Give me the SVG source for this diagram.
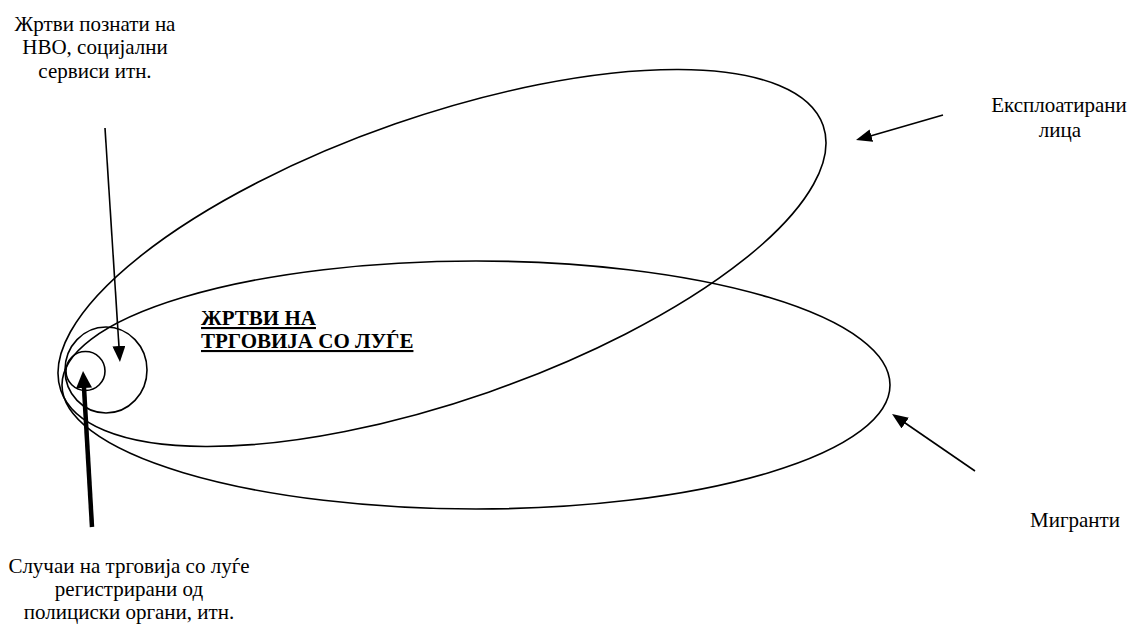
<svg xmlns="http://www.w3.org/2000/svg" width="1131" height="626" viewBox="0 0 1131 626">
<style>
.shape{fill:none;stroke:#000;stroke-width:1.6}
.lbl{font-family:'Liberation Serif','Times New Roman',serif;font-size:21px;fill:#000}
.mid{text-anchor:middle}
.title{font-weight:bold;text-decoration:underline}
.thin{stroke:#000;stroke-width:1.6;fill:none}
.thick{stroke:#000;stroke-width:4.5;fill:none}
</style>
<defs>
<marker id="ahThin" viewBox="0 0 16 13" refX="1" refY="6.5" markerWidth="16" markerHeight="13" markerUnits="userSpaceOnUse" orient="auto"><path d="M0,0 L16,6.5 L0,13 z" fill="#000"/></marker>
<marker id="ahThick" viewBox="0 0 17 16" refX="2" refY="8" markerWidth="17" markerHeight="16" markerUnits="userSpaceOnUse" orient="auto"><path d="M0,0 L17,8 L0,16 z" fill="#000"/></marker>
</defs>
<rect width="1131" height="626" fill="#fff"/>
<g id="exploited">
<ellipse class="shape" cx="442" cy="258" rx="403.5" ry="142" transform="rotate(-19.16 442 258)"/>
</g>
<g id="migrants">
<ellipse class="shape" cx="476" cy="385" rx="414" ry="124"/>
</g>
<g id="ngo">
<ellipse class="shape" cx="106" cy="370" rx="41" ry="43"/>
</g>
<g id="police">
<circle class="shape" cx="85.5" cy="371" r="19.5"/>
</g>
<g id="title">
<text class="lbl title" x="201" y="325">ЖРТВИ НА</text>
<text class="lbl title" x="201" y="348">ТРГОВИЈА СО ЛУЃЕ</text>
</g>
<g id="label-ngo">
<text class="lbl mid" x="95" y="30.5">Жртви познати на</text>
<text class="lbl mid" x="95" y="54">НВО, социјални</text>
<text class="lbl mid" x="95" y="78">сервиси итн.</text>
</g>
<g id="label-exploited">
<text class="lbl mid" x="1059" y="112">Експлоатирани</text>
<text class="lbl mid" x="1060" y="137">лица</text>
</g>
<g id="label-migrants">
<text class="lbl mid" x="1075" y="527">Мигранти</text>
</g>
<g id="label-police">
<text class="lbl mid" x="129" y="573">Случаи на трговија со луѓе</text>
<text class="lbl mid" x="129" y="596">регистрирани од</text>
<text class="lbl mid" x="129" y="619">полициски органи, итн.</text>
</g>
<g id="connectors">
<line class="thin" x1="105" y1="128" x2="119" y2="347" marker-end="url(#ahThin)"/>
<line class="thin" x1="943" y1="115" x2="870.4" y2="135.9" marker-end="url(#ahThin)"/>
<line class="thin" x1="975" y1="471" x2="904.4" y2="422.5" marker-end="url(#ahThin)"/>
<line class="thick" x1="92" y1="527" x2="83.9" y2="386" marker-end="url(#ahThick)"/>
</g>
</svg>
